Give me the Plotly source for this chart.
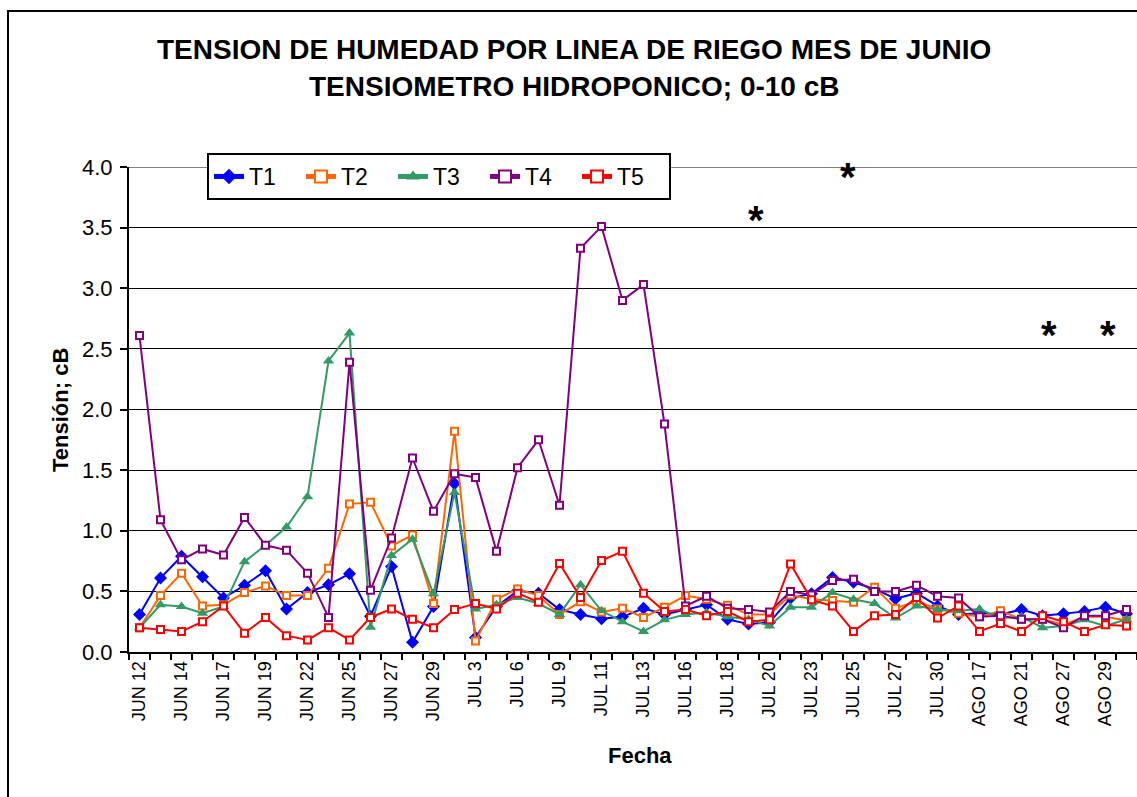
import plotly.graph_objects as go

x_labels = ["JUN 12", "JUN 14", "JUN 17", "JUN 19", "JUN 22", "JUN 25", "JUN 27", "JUN 29",
            "JUL 3", "JUL 6", "JUL 9", "JUL 11", "JUL 13", "JUL 16", "JUL 18", "JUL 20",
            "JUL 23", "JUL 25", "JUL 27", "JUL 30", "AGO 17", "AGO 21", "AGO 27", "AGO 29"]

T1 = [0.31, 0.61, 0.79, 0.62, 0.445, 0.55, 0.67, 0.355, 0.49, 0.555, 0.645, 0.295, 0.705,
      0.08, 0.375, 1.39, 0.12, 0.375, 0.505, 0.485, 0.35, 0.31, 0.275, 0.29, 0.36,
      0.31, 0.35, 0.39, 0.27, 0.23, 0.245, 0.445, 0.48, 0.615, 0.575, 0.52, 0.44,
      0.485, 0.38, 0.31, 0.32, 0.31, 0.35, 0.30, 0.315, 0.335, 0.37, 0.315]
T2 = [0.20, 0.465, 0.65, 0.38, 0.39, 0.49, 0.545, 0.465, 0.465, 0.69, 1.22, 1.235, 0.875,
      0.965, 0.40, 1.82, 0.09, 0.435, 0.52, 0.465, 0.31, 0.415, 0.33, 0.36, 0.285,
      0.37, 0.465, 0.435, 0.385, 0.31, 0.31, 0.47, 0.435, 0.425, 0.41, 0.535, 0.36,
      0.42, 0.355, 0.32, 0.29, 0.34, 0.27, 0.27, 0.225, 0.29, 0.29, 0.26]
T3 = [0.20, 0.39, 0.375, 0.32, 0.375, 0.745, 0.88, 1.03, 1.28, 2.40, 2.63, 0.205, 0.795,
      0.93, 0.48, 1.315, 0.355, 0.39, 0.45, 0.40, 0.31, 0.555, 0.34, 0.25, 0.17,
      0.265, 0.31, 0.325, 0.29, 0.27, 0.215, 0.37, 0.37, 0.49, 0.435, 0.40, 0.28,
      0.38, 0.35, 0.34, 0.355, 0.28, 0.29, 0.20, 0.215, 0.265, 0.215, 0.27]
T4 = [2.61, 1.09, 0.76, 0.85, 0.80, 1.11, 0.88, 0.84, 0.65, 0.285, 2.39, 0.51, 0.94,
      1.60, 1.16, 1.47, 1.44, 0.83, 1.52, 1.75, 1.21, 3.33, 3.51, 2.90, 3.03,
      1.88, 0.38, 0.46, 0.36, 0.35, 0.33, 0.50, 0.47, 0.59, 0.60, 0.50, 0.50,
      0.55, 0.46, 0.445, 0.29, 0.30, 0.27, 0.27, 0.20, 0.30, 0.30, 0.35]
T5 = [0.20, 0.185, 0.17, 0.25, 0.38, 0.155, 0.285, 0.135, 0.10, 0.20, 0.10, 0.285, 0.355,
      0.27, 0.20, 0.35, 0.40, 0.355, 0.485, 0.41, 0.73, 0.45, 0.755, 0.83, 0.485,
      0.335, 0.35, 0.30, 0.335, 0.25, 0.265, 0.725, 0.43, 0.38, 0.17, 0.30, 0.31,
      0.45, 0.28, 0.38, 0.17, 0.235, 0.17, 0.30, 0.25, 0.17, 0.225, 0.215]

star_x = [29.23, 33.6, 43.16, 45.99]
star_y = [3.59, 3.94, 2.64, 2.64]

FONT = "Arial, 'Liberation Sans', sans-serif"
idx = list(range(len(T1)))

series = [
    ("T1", T1, "#0000FF", dict(symbol="diamond", size=10, color="#0000FF")),
    ("T2", T2, "#FF6600", dict(symbol="square", size=7, color="white", line=dict(color="#FF6600", width=2))),
    ("T3", T3, "#339966", dict(symbol="triangle-up", size=10, color="#339966")),
    ("T4", T4, "#800080", dict(symbol="square", size=7, color="white", line=dict(color="#800080", width=2))),
    ("T5", T5, "#FF0000", dict(symbol="square", size=7, color="white", line=dict(color="#FF0000", width=2))),
]

fig = go.Figure()
for name, vals, col, mk in series:
    fig.add_trace(go.Scatter(x=idx, y=vals, mode="lines+markers", name=name,
                             line=dict(color=col, width=2), marker=mk))

W, H = 1137, 797
L, R, T, B = 129, 0, 167, 145
pw, ph = W - L - R, H - T - B

def px(xp):
    return (xp - L) / pw

def py(yp):
    return (H - B - yp) / ph

annotations = [
    dict(text="TENSION DE HUMEDAD POR LINEA DE RIEGO MES DE JUNIO", x=px(574), y=py(50),
         xref="paper", yref="paper", showarrow=False, xanchor="center", yanchor="middle",
         font=dict(size=28, family=FONT, color="black", weight="bold")),
    dict(text="TENSIOMETRO HIDROPONICO; 0-10 cB", x=px(574), y=py(87),
         xref="paper", yref="paper", showarrow=False, xanchor="center", yanchor="middle",
         font=dict(size=28, family=FONT, color="black", weight="bold")),
    dict(text="Tensión; cB", x=px(60), y=py(410), xref="paper", yref="paper", textangle=-90,
         showarrow=False, xanchor="center", yanchor="middle",
         font=dict(size=22, family=FONT, color="black", weight="bold")),
    dict(text="Fecha", x=px(640), y=py(755), xref="paper", yref="paper",
         showarrow=False, xanchor="center", yanchor="middle",
         font=dict(size=22, family=FONT, color="black", weight="bold")),
]
for sx, sy in zip(star_x, star_y):
    annotations.append(dict(text="*", x=sx, y=sy, xref="x", yref="y", showarrow=False,
                            xanchor="center", yanchor="middle", yshift=-3, xshift=3,
                            font=dict(size=40, family=FONT, color="black", weight="bold")))

shapes = [
    dict(type="line", xref="paper", yref="y", x0=0, x1=1, y0=4, y1=4,
         line=dict(color="#808080", width=2), layer="above"),
    dict(type="rect", xref="paper", yref="paper", x0=px(8), x1=px(W + 20), y0=py(H + 20), y1=py(11),
         line=dict(color="black", width=2)),
]

fig.update_layout(
    width=W, height=H,
    margin=dict(l=L, r=R, t=T, b=B, autoexpand=False),
    paper_bgcolor="white", plot_bgcolor="white",
    font=dict(family=FONT, color="black"),
    showlegend=True,
    legend=dict(orientation="h", x=px(207), y=py(153), xanchor="left", yanchor="top",
                bgcolor="white", bordercolor="black", borderwidth=2,
                font=dict(size=23, family=FONT, color="black"),
                entrywidth=47, entrywidthmode="pixels", tracegroupgap=0, itemsizing="constant"),
    annotations=annotations,
    shapes=shapes,
    xaxis=dict(range=[-0.5, len(T1) - 0.5], tickmode="array",
               tickvals=[2 * i for i in range(len(x_labels))], ticktext=x_labels,
               tickangle=-90, ticks="", showgrid=False, zeroline=False,
               showline=True, linecolor="black", linewidth=2,
               tickfont=dict(size=18, family=FONT, color="black"),
               minor=dict(ticks="outside", tickmode="linear", tick0=0.5, dtick=1,
                          ticklen=6, tickwidth=2, tickcolor="black", showgrid=False)),
    yaxis=dict(range=[0, 4], tickmode="linear", tick0=0, dtick=0.5, tickformat=".1f",
               ticks="outside", ticklen=7, tickwidth=2, tickcolor="black",
               showgrid=True, gridcolor="black", gridwidth=1, zeroline=False,
               showline=True, linecolor="black", linewidth=2,
               tickfont=dict(size=22, family=FONT, color="black"), ticklabelstandoff=3),
)

fig.write_html("out.html", config={"displayModeBar": False},
               post_script="document.body.style.margin='0';document.body.style.overflow='hidden';")
